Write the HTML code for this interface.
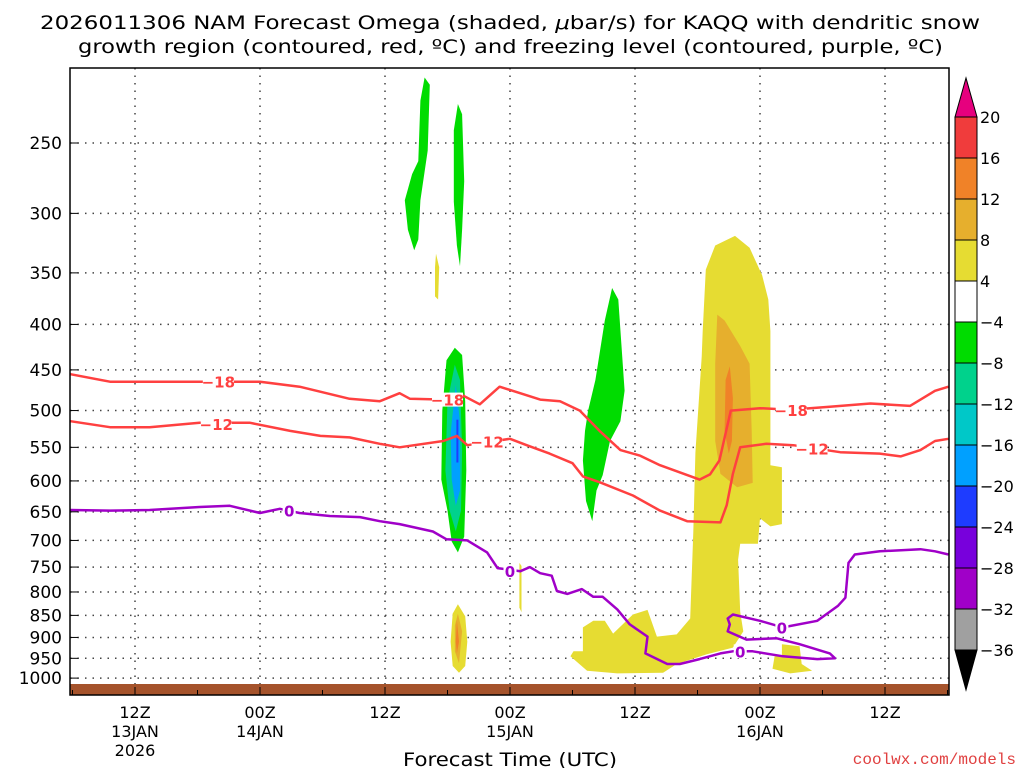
<!DOCTYPE html>
<html><head><meta charset="utf-8"><style>
html,body{margin:0;padding:0;background:#fff;}
svg{display:block;font-family:"DejaVu Sans","Liberation Sans",sans-serif;}
</style></head><body>
<svg id="chart" width="1024" height="768" viewBox="0 0 1024 768" xmlns="http://www.w3.org/2000/svg">
<text x="40" y="29" textLength="940" lengthAdjust="spacingAndGlyphs" font-size="19" fill="#000">2026011306 NAM Forecast Omega (shaded, <tspan font-style="italic">μ</tspan>bar/s) for KAQQ with dendritic snow</text>
<text x="78" y="53" textLength="865" lengthAdjust="spacingAndGlyphs" font-size="19" fill="#000">growth region (contoured, red, ºC) and freezing level (contoured, purple, ºC)</text>
<g id="plot"></g>
<text x="403" y="766" textLength="214" lengthAdjust="spacingAndGlyphs" font-size="19" fill="#000">Forecast Time (UTC)</text>
<text x="1016" y="764" text-anchor="end" font-size="16" fill="#e04040" font-family="Liberation Mono, monospace">coolwx.com/models</text>
<g id="cbar"></g>
</svg>
<script>
// ---- data ----
const pressureTicks = [250,300,350,400,450,500,550,600,650,700,750,800,850,900,950,1000];
const timeTickHours = [6,18,30,42,54,66,78];
const timeTickLabels = [["12Z","13JAN","2026"],["00Z","14JAN"],["12Z"],["00Z","15JAN"],["12Z"],["00Z","16JAN"],["12Z"]];
const cbarLevels = [20,16,12,8,4,-4,-8,-12,-16,-20,-24,-28,-32,-36];
const cbarColors = ["#f03c3c","#f08228","#e6af2d","#e6dc32","#ffffff","#00dc00","#00d28c","#00c8c8","#00a0ff","#1e3cff","#7800dc","#a000c8","#a0a0a0"];
// contour lines [hour, hPa]
const dgzMinus18 = [[-0.2,455],[3.6,464],[12.2,464],[18.0,464],[21.8,470],[26.6,485],[29.5,488],[31.4,478],[32.4,485],[35.8,486],[37.2,479],[39.1,492],[41.0,470],[44.9,486],[46.8,488],[48.7,500],[50.6,527],[52.6,554],[54.5,562],[56.4,576],[60.2,598],[61.2,590],[62.1,569],[63.2,500],[66.0,497],[68.9,499],[72.7,495],[76.6,491],[80.4,494],[82.8,475],[84.1,470]];
const dgzMinus12 = [[-0.2,514],[3.6,522],[7.4,522],[12.2,516],[17.0,516],[20.9,527],[23.8,534],[26.6,536],[29.5,545],[31.4,550],[35.6,541],[36.9,534],[37.9,547],[42.0,538],[43.6,547],[45.8,559],[48.0,573],[49.0,593],[50.6,602],[53.8,623],[56.4,648],[59.0,666],[62.2,668],[62.8,639],[63.4,589],[64.1,550],[66.6,545],[69.2,547],[73.7,557],[77.5,559],[79.5,563],[81.4,554],[82.8,541],[84.1,538]];
const freezing0 = [[-0.2,647],[3.6,648],[7.4,647],[12.2,642],[15.1,640],[18.0,652],[19.9,645],[21.8,652],[24.7,657],[27.6,659],[29.5,666],[31.4,671],[34.6,684],[35.9,698],[37.9,700],[39.8,722],[40.8,752],[43.0,758],[43.9,750],[44.9,762],[46.0,767],[46.5,798],[47.5,804],[48.9,794],[50.0,810],[50.9,810],[52.3,837],[53.5,870],[55.2,898],[55.0,938],[57.1,964],[58.3,964],[60.2,952],[62.2,938],[63.4,933],[65.3,933],[68.2,945],[71.5,952],[73.2,950],[72.7,938],[69.8,916],[67.6,902],[64.7,905],[62.9,886],[63.1,870],[62.9,857],[63.4,848],[66.0,862],[68.2,877],[71.5,862],[73.5,829],[74.2,812],[74.5,742],[75.1,726],[77.5,720],[81.4,716],[82.8,720],[84.1,726]];
const labels18 = [[14.0,464],[36.0,486],[69.0,499]];
const labels12 = [[13.8,518],[39.8,542],[71.0,552]];
const labels0 = [[20.8,648],[42.0,758],[68.1,877],[64.1,933]];
// shaded omega regions [hour, hPa]
const shadeGreenA = [[33.8,211],[34.3,215],[34.1,255],[33.4,290],[33.2,321],[32.8,330],[32.2,313],[31.9,290],[32.6,271],[33.2,262],[33.4,224]];
const shadeGreenB = [[37.0,226],[37.4,232],[37.6,276],[37.4,313],[37.2,344],[36.9,326],[36.6,291],[36.6,242]];
const shadeYellowSmallA = [[34.9,333],[35.2,345],[35.1,375],[34.8,372],[34.8,345]];
const shadeGreenC = [[36.7,425],[37.4,433],[37.7,488],[37.8,584],[37.6,693],[37.0,722],[36.4,702],[36.0,648],[35.4,598],[35.5,500],[35.9,439]];
const shadeTealC = [[36.7,444],[37.2,462],[37.4,554],[37.3,648],[36.8,684],[36.2,648],[35.8,584],[36.0,488]];
const shadeCyanC = [[36.8,468],[37.2,515],[37.2,615],[36.8,640],[36.4,598],[36.3,530]];
const shadeBlueC = [[36.85,512],[37.05,512],[37.05,572],[36.85,572]];
const shadeGreenD = [[51.8,364],[52.4,375],[53.0,475],[52.6,514],[51.6,541],[50.9,591],[50.3,615],[49.9,666],[49.3,632],[49.0,569],[49.2,527],[49.5,500],[50.2,462],[51.1,396]];
const shadeYellowSliver = [[42.9,742],[43.1,748],[43.1,843],[42.9,833]];
const shadeYellowBlob = [[37.0,826],[37.7,852],[37.9,910],[37.7,969],[37.1,986],[36.5,969],[36.3,910],[36.5,846]];
const shadeDarkYellowBlob = [[37.0,846],[37.4,886],[37.1,962],[36.7,933],[36.7,873]];
const shadeOrangeBlob = [[36.9,862],[37.1,910],[36.9,938],[36.8,910]];
const shadeYellowTower = [[63.6,318],[65.0,328],[66.2,352],[66.8,375],[67.0,407],[67.0,576],[68.1,579],[68.1,671],[67.0,675],[66.0,661],[65.8,706],[64.1,706],[63.9,736],[64.1,842],[64.4,886],[63.4,924],[60.9,940],[58.0,964],[56.7,986],[52.3,988],[49.4,981],[47.8,945],[48.1,933],[49.0,933],[49.0,877],[50.0,862],[51.1,862],[51.9,891],[53.8,848],[55.2,838],[56.1,898],[58.0,893],[59.3,857],[59.6,685],[59.8,558],[60.4,435],[60.5,407],[60.8,347],[61.7,326]];
const shadeYellowSmallB = [[68.1,916],[69.8,921],[70.0,964],[71.0,981],[68.9,988],[67.2,976],[67.4,945],[68.1,945]];
const shadeDarkYellowTower = [[61.9,390],[62.6,396],[64.1,423],[65.0,443],[65.2,527],[65.3,603],[63.8,610],[62.2,589],[61.7,541],[61.7,443]];
const shadeOrangeTower = [[63.1,446],[63.4,484],[63.3,541],[63.0,559],[62.6,527],[62.7,462]];

// ---- scales ----
const L=70,R=949,T=68,B=695;
const X=h=>72.5+h*125/12;
const Y=p=>143+386*Math.log(p/250);
const NS="http://www.w3.org/2000/svg";
const plot=document.getElementById('plot');
function mk(tag,attrs,parent){const e=document.createElementNS(NS,tag);for(const k in attrs)e.setAttribute(k,attrs[k]);parent.appendChild(e);return e;}
const defs=mk('clipPath',{id:'clip'},plot);mk('rect',{x:L,y:T,width:R-L,height:B-T},defs);
const g=mk('g',{'clip-path':'url(#clip)'},plot);
function poly(pts,fill,name){const e=mk('polygon',{points:pts.map(q=>X(q[0]).toFixed(1)+','+Y(q[1]).toFixed(1)).join(' '),fill:fill},g);

}
// gridlines
pressureTicks.forEach(p=>{const e=mk('line',{x1:L,x2:R,y1:Y(p),y2:Y(p),stroke:'#444','stroke-width':1.5,'stroke-dasharray':'1.5 6'},g);

});
timeTickHours.forEach(h=>{const e=mk('line',{x1:X(h),x2:X(h),y1:T,y2:B,stroke:'#444','stroke-width':1.5,'stroke-dasharray':'1.5 6'},g);

});
poly(shadeGreenA,'#00dc00','omega-green-a');
poly(shadeGreenB,'#00dc00','omega-green-b');
poly(shadeYellowSmallA,'#e6dc32','omega-yellow-a');
poly(shadeGreenC,'#00dc00','omega-green-c');
poly(shadeTealC,'#00d28c','omega-teal-c');
poly(shadeCyanC,'#00a0ff','omega-cyan-c');
poly(shadeBlueC,'#1e3cff','omega-blue-c');
poly(shadeGreenD,'#00dc00','omega-green-d');
poly(shadeYellowSliver,'#e6dc32','omega-yellow-sliver');
poly(shadeYellowBlob,'#e6dc32','omega-yellow-blob');
poly(shadeDarkYellowBlob,'#e6af2d','omega-darkyellow-blob');
poly(shadeOrangeBlob,'#f08228','omega-orange-blob');
poly(shadeYellowTower,'#e6dc32','omega-yellow-tower');
poly(shadeYellowSmallB,'#e6dc32','omega-yellow-b');
poly(shadeDarkYellowTower,'#e6af2d','omega-darkyellow-tower');
poly(shadeOrangeTower,'#f08228','omega-orange-tower');
// ground
const gr=mk('rect',{x:L,y:684,width:R-L,height:B-684,fill:'#a5532b'},g);


function line(pts,color,name){const e=mk('polyline',{points:pts.map(q=>X(q[0]).toFixed(1)+','+Y(q[1]).toFixed(1)).join(' '),fill:'none',stroke:color,'stroke-width':2.5,'stroke-linejoin':'round'},g);

}
line(dgzMinus18,'#ff4040','contour-minus18');
line(dgzMinus12,'#ff4040','contour-minus12');
line(freezing0,'#a000c8','contour-freezing-0');
function lab(list,txt,color,name){list.forEach(q=>{const w=txt.length*9+4;
mk('rect',{x:X(q[0])-w/2,y:Y(q[1])-7,width:w,height:14,fill:'#fff'},g);
const t=mk('text',{x:X(q[0]),y:Y(q[1])+6,'text-anchor':'middle','font-size':15,'font-weight':'bold',fill:color},g);t.textContent=txt;

});}
lab(labels18,'−18','#ff4040','contour-label-minus18');
lab(labels12,'−12','#ff4040','contour-label-minus12');
lab(labels0,'0','#a000c8','contour-label-0');
// frame
mk('rect',{x:L,y:T,width:R-L,height:B-T,fill:'none',stroke:'#000','stroke-width':1.5},plot);
// y labels
pressureTicks.forEach(p=>{const t=mk('text',{x:62,y:Y(p)+6,'text-anchor':'end','font-size':17,fill:'#000'},plot);t.textContent=p;


mk('line',{x1:L,x2:L+8,y1:Y(p),y2:Y(p),stroke:'#000'},plot);});
// x labels
for(let h=0;h<=84;h+=6){mk('line',{x1:X(h),x2:X(h),y1:B,y2:B-(h%12==6?8:5),stroke:'#000'},plot);}
timeTickHours.forEach((h,i)=>{timeTickLabels[i].forEach((s,j)=>{const t=mk('text',{x:X(h),y:718+j*19,'text-anchor':'middle','font-size':16,fill:'#000'},plot);t.textContent=s;

});});
// colorbar
const cb=document.getElementById('cbar');
const cx=955,cw=22,c0=117,cs=41;
mk('polygon',{points:`${cx},${c0} ${cx+cw},${c0} ${cx+cw/2},78`,fill:'#e6007e',stroke:'#000'},cb);
cbarColors.forEach((c,i)=>{const r=mk('rect',{x:cx,y:c0+i*cs,width:cw,height:cs,fill:c,stroke:'#000','stroke-width':1},cb);

});
mk('polygon',{points:`${cx},${c0+13*cs} ${cx+cw},${c0+13*cs} ${cx+cw/2},690`,fill:'#000',stroke:'#000'},cb);
cbarLevels.forEach((v,i)=>{const t=mk('text',{x:980,y:c0+i*cs+6,'font-size':16,fill:'#000'},cb);t.textContent=(v<0?'−':'')+Math.abs(v);

});
</script>
</body></html>
